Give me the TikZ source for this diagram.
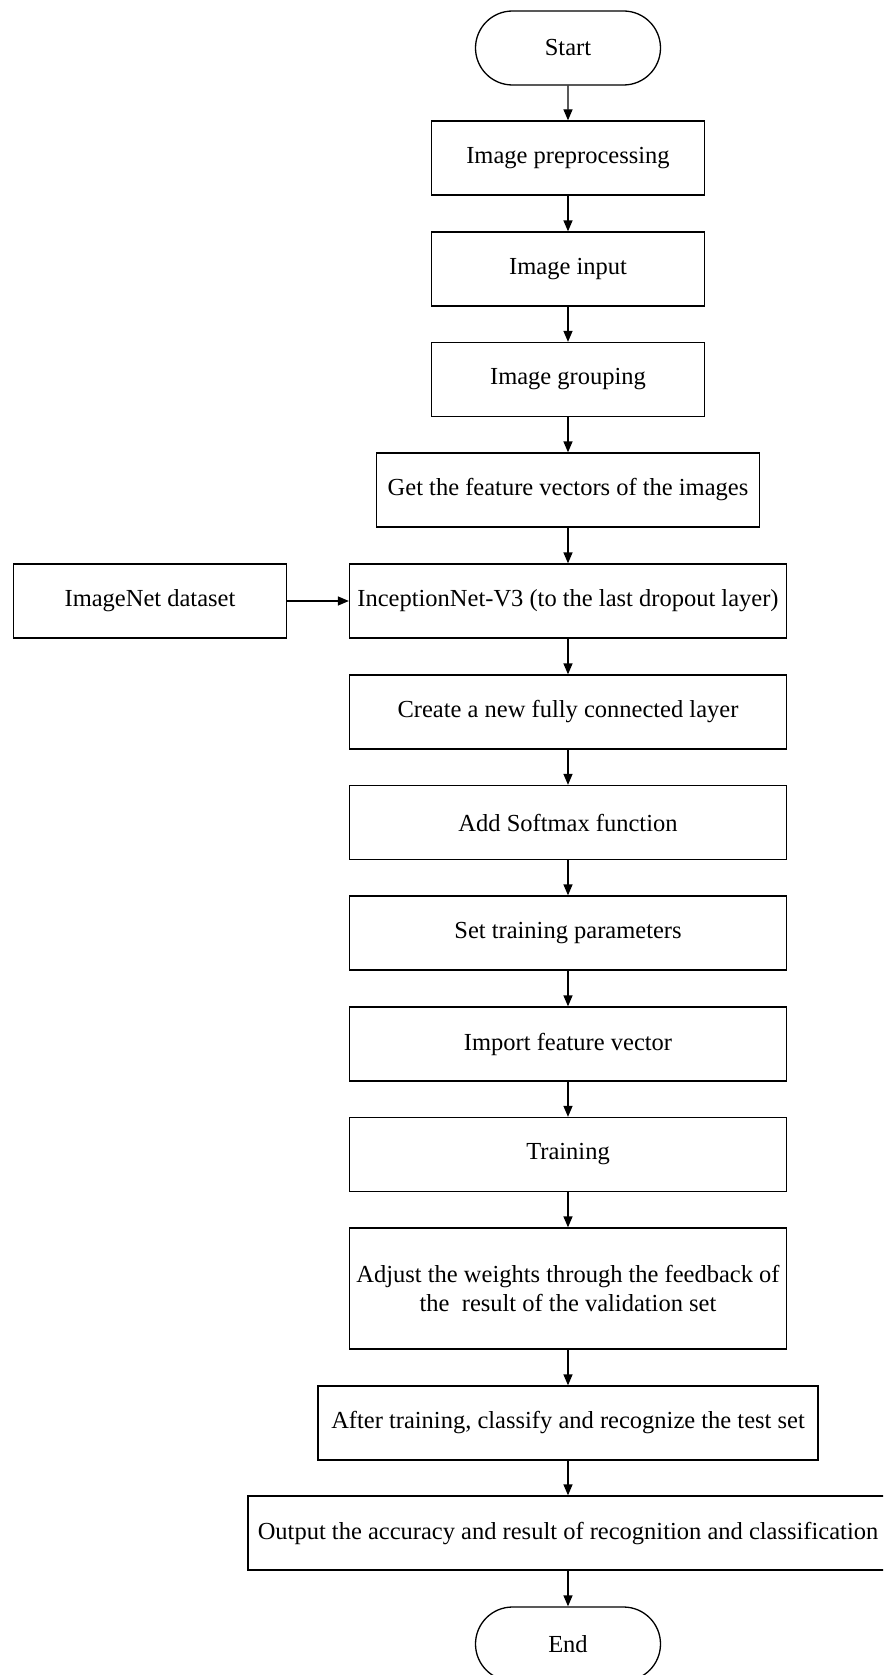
\documentclass[tikz,border=0pt]{standalone}
\usepackage{fontspec}
\setmainfont{Liberation Serif}
\usetikzlibrary{arrows.meta,shapes.misc}
\begin{document}
\begin{tikzpicture}[x=1pt,y=-1pt,
  every node/.style={font=\fontsize{24.5}{29}\selectfont},
  box/.style={draw,line width=1.3pt,rectangle,minimum height=74pt,align=center,inner sep=0pt},
  term/.style={draw,line width=1.3pt,rounded rectangle,minimum width=185pt,minimum height=74pt,inner sep=0pt},
  arr/.style={line width=1.3pt,-{Triangle[length=11pt,width=9pt]}}]
\useasboundingbox (0,0) rectangle (883,1675);
\clip (0,0) rectangle (883,1675);
\node[term] (start) at (568,48) {Start};
\node[box,minimum width=273pt] (pre) at (568,158) {Image preprocessing};
\node[box,minimum width=273pt] (inp) at (568,269) {Image input};
\node[box,minimum width=273pt] (grp) at (568,379.5) {Image grouping};
\node[box,minimum width=383pt] (feat) at (568,490) {Get the feature vectors of the images};
\node[box,minimum width=273pt] (imnet) at (150,601) {ImageNet dataset};
\node[box,minimum width=437pt] (incep) at (568,601) {InceptionNet-V3 (to the last dropout layer)};
\node[box,minimum width=437pt] (fc) at (568,712) {Create a new fully connected layer};
\node[box,minimum width=437pt] (soft) at (568,822.5) {Add Softmax function};
\node[box,minimum width=437pt] (set) at (568,933) {Set training parameters};
\node[box,minimum width=437pt] (imp) at (568,1044) {Import feature vector};
\node[box,minimum width=437pt] (train) at (568,1154.5) {Training};
\node[box,minimum width=437pt,minimum height=121pt] (adj) at (568,1288.5) {Adjust the weights through the feedback of\\the\ \ result of the validation set};
\node[box,minimum width=500pt] (after) at (568,1423) {After training, classify and recognize the test set};
\node[box,minimum width=640pt] (out) at (568,1533) {Output the accuracy and result of recognition and classification};
\node[term] (end) at (568,1644) {End};
\draw[arr] (start) -- (pre);
\draw[arr] (pre) -- (inp);
\draw[arr] (inp) -- (grp);
\draw[arr] (grp) -- (feat);
\draw[arr] (feat) -- (incep);
\draw[arr] (imnet) -- (incep);
\draw[arr] (incep) -- (fc);
\draw[arr] (fc) -- (soft);
\draw[arr] (soft) -- (set);
\draw[arr] (set) -- (imp);
\draw[arr] (imp) -- (train);
\draw[arr] (train) -- (adj);
\draw[arr] (adj) -- (after);
\draw[arr] (after) -- (out);
\draw[arr] (out) -- (end);
\end{tikzpicture}
\end{document}
